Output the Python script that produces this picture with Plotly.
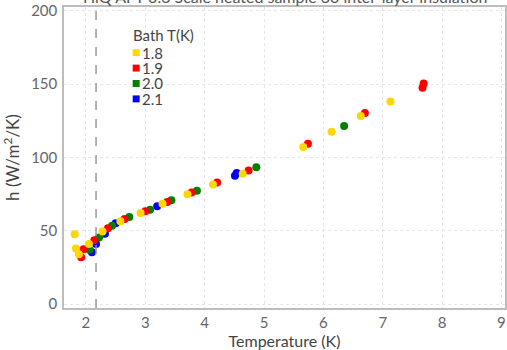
import plotly.graph_objects as go

# Heat transfer coefficient h (W/m^2/K) vs sample temperature, one series per bath temperature
bath_labels = ["1.8", "1.9", "2.0", "2.1"]
bath_colors = ["#FFD700", "#FF0000", "#008000", "#0000FF"]

t_18 = [1.81, 1.83, 1.88, 2.05, 2.28, 2.58, 2.92, 3.29, 3.71, 4.14, 4.64, 5.66, 6.14, 6.63, 7.13]
h_18 = [47.5, 37.8, 34.0, 40.9, 49.4, 56.4, 62.0, 68.3, 74.8, 81.5, 88.9, 107.1, 117.5, 128.2, 138.1]

t_19 = [1.92, 1.96, 2.14, 2.37, 2.65, 3.00, 3.37, 3.78, 4.21, 4.74, 5.74, 6.70, 7.67, 7.69]
h_19 = [31.9, 37.3, 43.5, 51.6, 57.9, 63.3, 69.6, 76.0, 82.8, 91.1, 109.2, 130.2, 147.5, 150.3]

t_20 = [2.06, 2.22, 2.44, 2.73, 3.08, 3.44, 3.87, 4.87, 6.35]
h_20 = [37.0, 45.3, 53.4, 59.3, 64.2, 70.8, 77.3, 93.2, 121.4]

t_21 = [2.10, 2.17, 2.32, 2.50, 3.20, 4.51, 4.54]
h_21 = [35.3, 41.0, 48.0, 55.0, 66.7, 87.5, 89.3]

t_series = [t_18, t_19, t_20, t_21]
h_series = [h_18, h_19, h_20, h_21]

# Superfluid helium lambda point
T_LAMBDA = 2.17

FONT = "Lato"
W, H = 507, 350
M_L, M_R, M_T, M_B = 64, 0, 7, 40

fig = go.Figure()

# Draw the warmest bath first so the 1.8 K series sits on top
for lab, col, t, h in reversed(list(zip(bath_labels, bath_colors, t_series, h_series))):
    fig.add_trace(go.Scatter(
        x=t, y=h, mode="markers", name=lab, showlegend=False,
        marker=dict(color=col, size=8, line=dict(width=0)),
    ))

fig.add_shape(type="line", xref="x", yref="paper", x0=T_LAMBDA, x1=T_LAMBDA, y0=0, y1=1,
              line=dict(color="#9a9a9a", width=1.5, dash="dash"))

# Compact legend box: title, coloured squares and labels
pw, ph = W - M_L - M_R, H - M_T - M_B


def px_to_paper(px, py):
    return (px - M_L) / pw, 1 - (py - M_T) / ph


lx, ly = px_to_paper(131, 35)
fig.add_annotation(x=lx, y=ly, xref="paper", yref="paper", text="Bath T(K)", showarrow=False,
                   xanchor="left", yanchor="middle", font=dict(family=FONT, size=15, color="#444"))
for i, (lab, col) in enumerate(zip(bath_labels, bath_colors)):
    cy = 53 + i * 15.5
    x0, y0 = px_to_paper(133, cy - 3.5)
    x1, y1 = px_to_paper(140, cy + 3.5)
    fig.add_shape(type="rect", xref="paper", yref="paper", x0=x0, x1=x1, y0=y1, y1=y0,
                  fillcolor=col, line=dict(width=0))
    tx, ty = px_to_paper(140, cy)
    fig.add_annotation(x=tx, y=ty, xref="paper", yref="paper", text=lab, showarrow=False,
                       xanchor="left", yanchor="middle", font=dict(family=FONT, size=15, color="#444"))

# Chart title, sitting right at the top edge of the page
fig.add_annotation(x=0.5, y=1, xref="paper", yref="paper", yshift=11, showarrow=False,
                   xanchor="center", yanchor="middle",
                   text="HiQ AFT 0.3 Scale heated sample 30 inter-layer insulation",
                   font=dict(family=FONT, size=16, color="#555"))

axis_common = dict(
    showline=True, linecolor="#bdbdbd", linewidth=1.5, mirror=True,
    showgrid=True, gridcolor="#e6e6e6", griddash="dot", gridwidth=1,
    zeroline=False, ticks="", tickfont=dict(family=FONT, size=15, color="#666"),
)

fig.update_layout(
    width=W, height=H,
    margin=dict(l=M_L, r=M_R, t=M_T, b=M_B),
    paper_bgcolor="white", plot_bgcolor="white",
    font=dict(family=FONT, color="#444"),
    xaxis=dict(range=[1.63, 9.06], tickvals=[2, 3, 4, 5, 6, 7, 8, 9],
               title=dict(text="Temperature (K)", font=dict(family=FONT, size=16, color="#444"), standoff=8),
               **axis_common),
    yaxis=dict(range=[-2.7, 202.5], tickvals=[0, 50, 100, 150, 200],
               title=dict(text="h (W/m<sup>2</sup>/K)", font=dict(family=FONT, size=17, color="#444"), standoff=10),
               ticklabelstandoff=2, **axis_common),
    showlegend=False,
)

fig.write_html("out.html")
